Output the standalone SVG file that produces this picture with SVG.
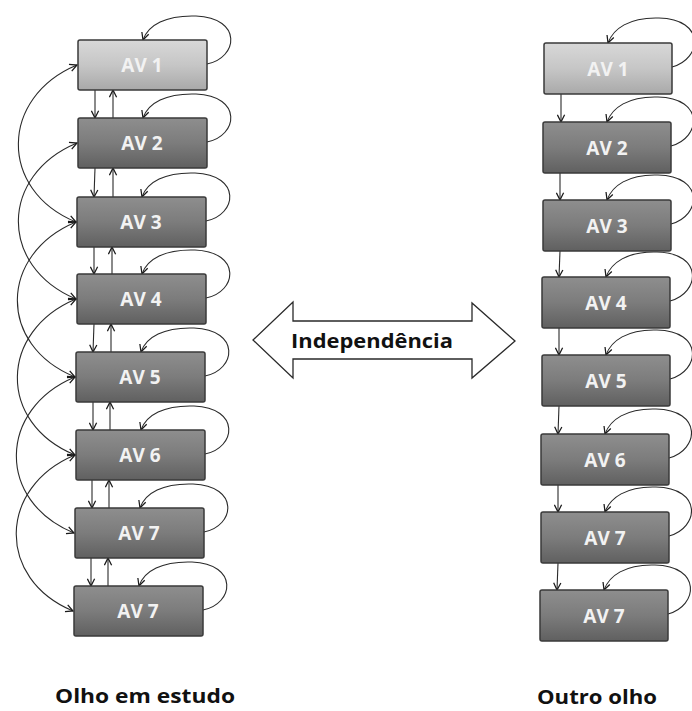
<svg xmlns="http://www.w3.org/2000/svg" width="692" height="711" viewBox="0 0 692 711">
  <style>
    .box { stroke: #3a3a3a; stroke-width: 1.5; }
    .first { fill: url(#gLight); }
    .other { fill: url(#gDark); }
    .lbl { font-family: "Open Sans", "Liberation Sans", sans-serif; font-size: 19px; font-weight: bold; fill: #f2f2f2; text-anchor: middle; }
    .con { fill: none; stroke: #2a2a2a; stroke-width: 1.1; }
    .cap { font-family: "Open Sans", "Liberation Sans", sans-serif; font-weight: bold; fill: #111; }
  </style>
  <defs>
    <linearGradient id="gLight" x1="0" y1="0" x2="0" y2="1">
      <stop offset="0" stop-color="#d8d8d8"/>
      <stop offset="0.5" stop-color="#c6c6c6"/>
      <stop offset="1" stop-color="#a9a9a9"/>
    </linearGradient>
    <linearGradient id="gDark" x1="0" y1="0" x2="0" y2="1">
      <stop offset="0" stop-color="#8e8e8e"/>
      <stop offset="0.5" stop-color="#7c7c7c"/>
      <stop offset="1" stop-color="#606060"/>
    </linearGradient>
    <marker id="ah" viewBox="0 0 10 10" refX="9" refY="5" markerWidth="9" markerHeight="9" markerUnits="userSpaceOnUse" orient="auto-start-reverse">
      <path d="M1,1 L9,5 L1,9" fill="none" stroke="#1a1a1a" stroke-width="1.4"/>
    </marker>
  </defs>

  <!-- connectors -->
  <g id="connectors">
    <!-- left column: self loops -->
    <path class="con" marker-end="url(#ah)" d="M207,64 C238,58 243,18 196,16 C166,15 148,25 143,40"/>
    <path class="con" marker-end="url(#ah)" d="M207,142 C238,136 243,96 196,94 C166,93 148,103 143,118"/>
    <path class="con" marker-end="url(#ah)" d="M206,221 C237,215 242,175 195,173 C165,172 147,182 142,197"/>
    <path class="con" marker-end="url(#ah)" d="M206,298 C237,292 242,252 195,250 C165,249 147,259 142,274"/>
    <path class="con" marker-end="url(#ah)" d="M205,376 C236,370 241,330 194,328 C164,327 146,337 141,352"/>
    <path class="con" marker-end="url(#ah)" d="M205,454 C236,448 241,408 194,406 C164,405 146,415 141,430"/>
    <path class="con" marker-end="url(#ah)" d="M204,532 C235,526 240,486 193,484 C163,483 145,493 140,508"/>
    <path class="con" marker-end="url(#ah)" d="M203,610 C234,604 239,564 192,562 C162,561 144,571 139,586"/>

    <!-- left column: down / up links -->
    <path class="con" marker-end="url(#ah)" d="M95,90 L95,118"/>
    <path class="con" marker-end="url(#ah)" d="M113,118 L113,90"/>
    <path class="con" marker-end="url(#ah)" d="M95,168 L94,197"/>
    <path class="con" marker-end="url(#ah)" d="M113,197 L113,168"/>
    <path class="con" marker-end="url(#ah)" d="M94,247 L94,274"/>
    <path class="con" marker-end="url(#ah)" d="M112,274 L112,247"/>
    <path class="con" marker-end="url(#ah)" d="M94,324 L93,352"/>
    <path class="con" marker-end="url(#ah)" d="M111,352 L111,324"/>
    <path class="con" marker-end="url(#ah)" d="M93,402 L93,430"/>
    <path class="con" marker-end="url(#ah)" d="M110,430 L110,402"/>
    <path class="con" marker-end="url(#ah)" d="M92,480 L92,508"/>
    <path class="con" marker-end="url(#ah)" d="M109,508 L109,480"/>
    <path class="con" marker-end="url(#ah)" d="M91,558 L91,586"/>
    <path class="con" marker-end="url(#ah)" d="M108,586 L108,558"/>

    <!-- left column: two-step links -->
    <path class="con" marker-start="url(#ah)" marker-end="url(#ah)" d="M77,65 C0,97 -2,190 76,222"/>
    <path class="con" marker-start="url(#ah)" marker-end="url(#ah)" d="M77,143 C0,175 -2,266 76,299"/>
    <path class="con" marker-start="url(#ah)" marker-end="url(#ah)" d="M76,222 C-1,254 -3,345 75,377"/>
    <path class="con" marker-start="url(#ah)" marker-end="url(#ah)" d="M76,299 C-1,331 -3,423 75,455"/>
    <path class="con" marker-start="url(#ah)" marker-end="url(#ah)" d="M75,377 C-2,409 -4,501 74,533"/>
    <path class="con" marker-start="url(#ah)" marker-end="url(#ah)" d="M75,455 C-2,487 -4,579 73,611"/>

    <!-- right column: self loops -->
    <path class="con" marker-end="url(#ah)" d="M672,67 C702,59 706,19 659,18 C629,17 613,29 608,43"/>
    <path class="con" marker-end="url(#ah)" d="M671,146 C701,138 705,98 658,97 C628,96 612,108 607,122"/>
    <path class="con" marker-end="url(#ah)" d="M671,224 C701,216 705,176 658,175 C628,174 612,186 607,200"/>
    <path class="con" marker-end="url(#ah)" d="M670,301 C700,293 704,253 657,252 C627,251 611,263 606,277"/>
    <path class="con" marker-end="url(#ah)" d="M670,379 C700,371 704,331 657,330 C627,329 611,341 606,355"/>
    <path class="con" marker-end="url(#ah)" d="M669,458 C699,450 703,410 656,409 C626,408 610,420 605,434"/>
    <path class="con" marker-end="url(#ah)" d="M669,536 C699,528 703,488 656,487 C626,486 610,498 605,512"/>
    <path class="con" marker-end="url(#ah)" d="M668,614 C698,606 702,566 655,565 C625,564 609,576 604,590"/>

    <!-- right column: down links -->
    <path class="con" marker-end="url(#ah)" d="M561,94 L561,122"/>
    <path class="con" marker-end="url(#ah)" d="M560,173 L560,200"/>
    <path class="con" marker-end="url(#ah)" d="M560,251 L559,277"/>
    <path class="con" marker-end="url(#ah)" d="M559,328 L559,355"/>
    <path class="con" marker-end="url(#ah)" d="M559,406 L558,434"/>
    <path class="con" marker-end="url(#ah)" d="M558,485 L558,512"/>
    <path class="con" marker-end="url(#ah)" d="M558,563 L557,590"/>
  </g>

  <!-- left column nodes -->
  <g id="L1"><rect class="box first" x="78" y="40" width="129" height="50" rx="2"/><text class="lbl" x="142" y="72">AV 1</text></g>
  <g id="L2"><rect class="box other" x="78" y="118" width="129" height="50" rx="2"/><text class="lbl" x="142" y="150">AV 2</text></g>
  <g id="L3"><rect class="box other" x="77" y="197" width="129" height="50" rx="2"/><text class="lbl" x="141" y="229">AV 3</text></g>
  <g id="L4"><rect class="box other" x="77" y="274" width="129" height="50" rx="2"/><text class="lbl" x="141" y="306">AV 4</text></g>
  <g id="L5"><rect class="box other" x="76" y="352" width="129" height="50" rx="2"/><text class="lbl" x="140" y="384">AV 5</text></g>
  <g id="L6"><rect class="box other" x="76" y="430" width="129" height="50" rx="2"/><text class="lbl" x="140" y="462">AV 6</text></g>
  <g id="L7"><rect class="box other" x="75" y="508" width="129" height="50" rx="2"/><text class="lbl" x="139" y="540">AV 7</text></g>
  <g id="L8"><rect class="box other" x="74" y="586" width="129" height="50" rx="2"/><text class="lbl" x="138" y="618">AV 7</text></g>

  <!-- right column nodes -->
  <g id="R1"><rect class="box first" x="544" y="43" width="128" height="51" rx="2"/><text class="lbl" x="608" y="76">AV 1</text></g>
  <g id="R2"><rect class="box other" x="543" y="122" width="128" height="51" rx="2"/><text class="lbl" x="607" y="155">AV 2</text></g>
  <g id="R3"><rect class="box other" x="543" y="200" width="128" height="51" rx="2"/><text class="lbl" x="607" y="233">AV 3</text></g>
  <g id="R4"><rect class="box other" x="542" y="277" width="128" height="51" rx="2"/><text class="lbl" x="606" y="310">AV 4</text></g>
  <g id="R5"><rect class="box other" x="542" y="355" width="128" height="51" rx="2"/><text class="lbl" x="606" y="388">AV 5</text></g>
  <g id="R6"><rect class="box other" x="541" y="434" width="128" height="51" rx="2"/><text class="lbl" x="605" y="467">AV 6</text></g>
  <g id="R7"><rect class="box other" x="541" y="512" width="128" height="51" rx="2"/><text class="lbl" x="605" y="545">AV 7</text></g>
  <g id="R8"><rect class="box other" x="540" y="590" width="128" height="51" rx="2"/><text class="lbl" x="604" y="623">AV 7</text></g>

  <!-- double-headed block arrow -->
  <g id="independencia">
    <polygon points="253,340 293,302 293,321 472,321 472,303 515,341 472,378 472,359 293,359 293,378" fill="#ffffff" stroke="#2a2a2a" stroke-width="1.3" stroke-linejoin="miter"/>
    <text class="cap" x="372" y="348" font-size="19" text-anchor="middle" textLength="162" lengthAdjust="spacingAndGlyphs">Independência</text>
  </g>

  <!-- column captions -->
  <text class="cap" x="55" y="703" font-size="20" textLength="180" lengthAdjust="spacingAndGlyphs">Olho em estudo</text>
  <text class="cap" x="537" y="704" font-size="19" textLength="120" lengthAdjust="spacingAndGlyphs">Outro olho</text>
</svg>
